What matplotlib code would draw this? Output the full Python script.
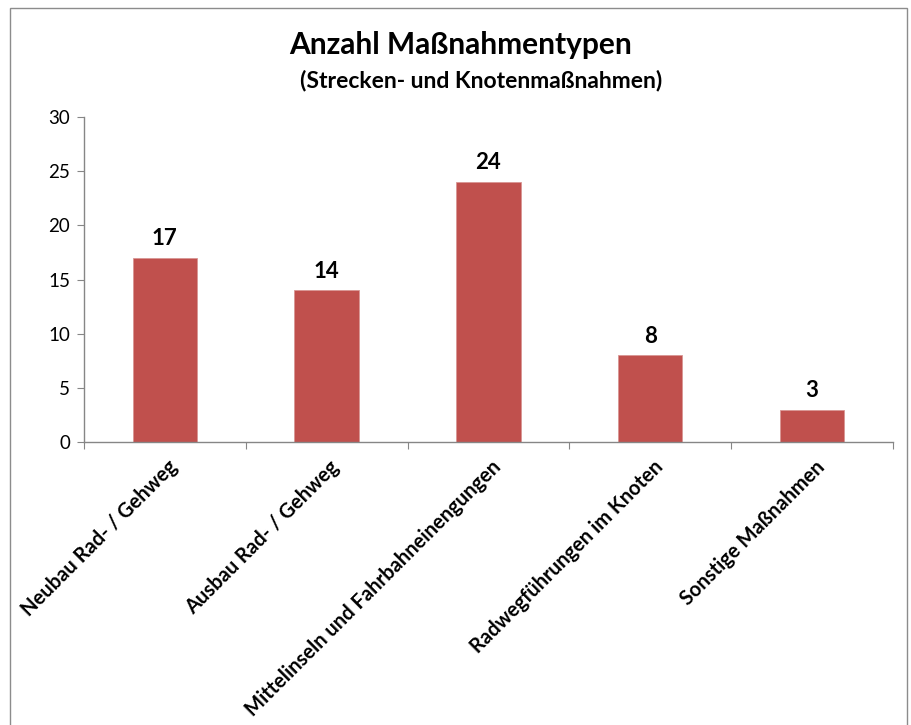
import matplotlib.pyplot as plt
import matplotlib.patches as mpatches
import numpy as np

# Maßnahmentypen und Anzahl
categories = ['Neubau Rad- / Gehweg', 'Ausbau Rad- / Gehweg',
              'Mittelinseln und Fahrbahneinengungen', 'Radwegführungen im Knoten',
              'Sonstige Maßnahmen']
counts = [17, 14, 24, 8, 3]
y_ticks = [0, 5, 10, 15, 20, 25, 30]

plt.rcParams['font.family'] = ['Lato', 'DejaVu Sans']

bar_color = '#C0504D'
axis_color = '#868686'

fig = plt.figure(figsize=(9.11, 7.25), dpi=100)
ax = fig.add_axes([0.0922, 0.3903, 0.8878, 0.4483])

x = np.arange(len(categories))
ax.bar(x, counts, width=0.4, color=bar_color, edgecolor='#D99694', linewidth=0.6)

for xi, v in zip(x, counts):
    ax.text(xi, v + 0.8, str(v), ha='center', va='bottom',
            fontsize=16, fontweight='bold')

ax.set_xlim(-0.5, len(categories) - 0.5)
ax.set_ylim(0, 30)
ax.set_yticks(y_ticks)
ax.tick_params(axis='y', direction='out', length=5, color=axis_color,
               labelsize=13.5, pad=5)

# Achsenstriche zwischen den Kategorien, Beschriftung mittig
ax.set_xticks(np.arange(len(categories) + 1) - 0.5)
ax.set_xticklabels([])
ax.tick_params(axis='x', direction='out', length=5, color=axis_color)
for xi, label in zip(x, categories):
    ax.text(xi + 0.06, -2.0, label, rotation=45, rotation_mode='anchor',
            ha='right', va='center', fontsize=14.5, fontweight='bold')

for side in ['top', 'right']:
    ax.spines[side].set_visible(False)
for side in ['left', 'bottom']:
    ax.spines[side].set_color(axis_color)
    ax.spines[side].set_linewidth(1.0)

fig.text(0.505, 0.938, 'Anzahl Maßnahmentypen', ha='center', va='center',
         fontsize=21.5, fontweight='bold')
fig.text(0.528, 0.889, '(Strecken- und Knotenmaßnahmen)', ha='center',
         va='center', fontsize=16.5, fontweight='bold')

# Rahmen um das Diagramm
frame = mpatches.Rectangle((0.011, -0.05), 0.985, 1.039, transform=fig.transFigure,
                           fill=False, edgecolor='#8C8C8C', linewidth=1.0)
fig.patches.append(frame)

fig.savefig('out.png', dpi=100, facecolor='white')
plt.close(fig)
